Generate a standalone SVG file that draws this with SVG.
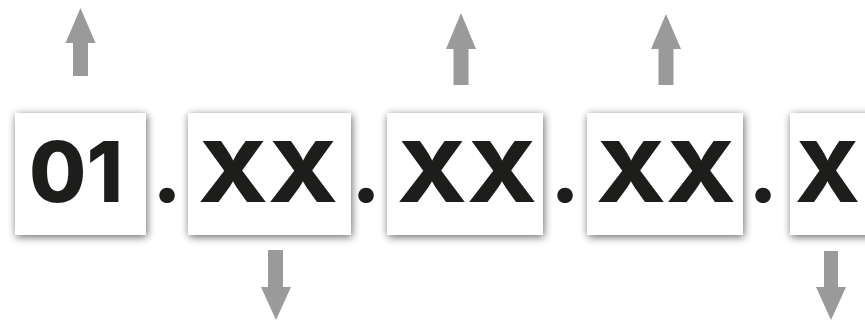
<svg xmlns="http://www.w3.org/2000/svg" width="865" height="320" viewBox="0 0 865 320">
<defs>
<filter id="sh" x="-20%" y="-20%" width="140%" height="140%">
<feGaussianBlur in="SourceAlpha" stdDeviation="4"/>
<feOffset dx="0.5" dy="1.5" result="b"/>
<feComponentTransfer><feFuncA type="linear" slope="0.6"/></feComponentTransfer>
<feMerge><feMergeNode/><feMergeNode in="SourceGraphic"/></feMerge>
</filter>
<filter id="soft"><feGaussianBlur stdDeviation="0.7"/></filter>
</defs>
<style>
.box{fill:#ffffff;filter:url(#sh)}
.t{font-family:Inter,Lato,"DejaVu Sans",sans-serif;font-weight:800;font-size:84px;fill:#1d1d1b;text-anchor:start}
.dot{font-family:Inter,Lato,"DejaVu Sans",sans-serif;font-weight:800;font-size:84px;fill:#1d1d1b;text-anchor:middle}
.arr{fill:#9a9a9a}
</style>
<rect width="865" height="320" fill="#ffffff"/>
<g id="connectors">
<polygon class="arr" filter="url(#soft)" points="80.5,8 95.5,43 88,43 88,76 73,76 73,43 65.5,43"/>
<polygon class="arr" points="461,13 476,49 468.5,49 468.5,85 453.5,85 453.5,49 446,49"/>
<polygon class="arr" points="666,14 681,49 673.5,49 673.5,85 658.5,85 658.5,49 651,49"/>
<polygon class="arr" points="268,250 283,250 283,287 291,287 276,320 261,287 268,287"/>
<polygon class="arr" points="824,251 838,251 838,287 846,287 831,320 816,287 824,287"/>
</g>
<g id="node-01">
<rect class="box" x="15" y="113" width="131" height="122"/>
<text class="t" x="29" y="202" textLength="94" lengthAdjust="spacingAndGlyphs">01</text>
</g>
<g id="sep-1"><text class="dot" x="167" y="202">.</text></g>
<g id="node-xx-1">
<rect class="box" x="188" y="113" width="163" height="122"/>
<text class="t" x="198" y="202" textLength="140" lengthAdjust="spacingAndGlyphs">XX</text>
</g>
<g id="sep-2"><text class="dot" x="366" y="202">.</text></g>
<g id="node-xx-2">
<rect class="box" x="387" y="113" width="156" height="122"/>
<text class="t" x="397" y="202" textLength="140" lengthAdjust="spacingAndGlyphs">XX</text>
</g>
<g id="sep-3"><text class="dot" x="565" y="202">.</text></g>
<g id="node-xx-3">
<rect class="box" x="587" y="113" width="156" height="122"/>
<text class="t" x="596" y="202" textLength="140" lengthAdjust="spacingAndGlyphs">XX</text>
</g>
<g id="sep-4"><text class="dot" x="763" y="202">.</text></g>
<g id="node-x">
<rect class="box" x="790" y="113" width="156" height="122"/>
<text class="t" x="795" y="202" textLength="65" lengthAdjust="spacingAndGlyphs">X</text>
</g>
</svg>
